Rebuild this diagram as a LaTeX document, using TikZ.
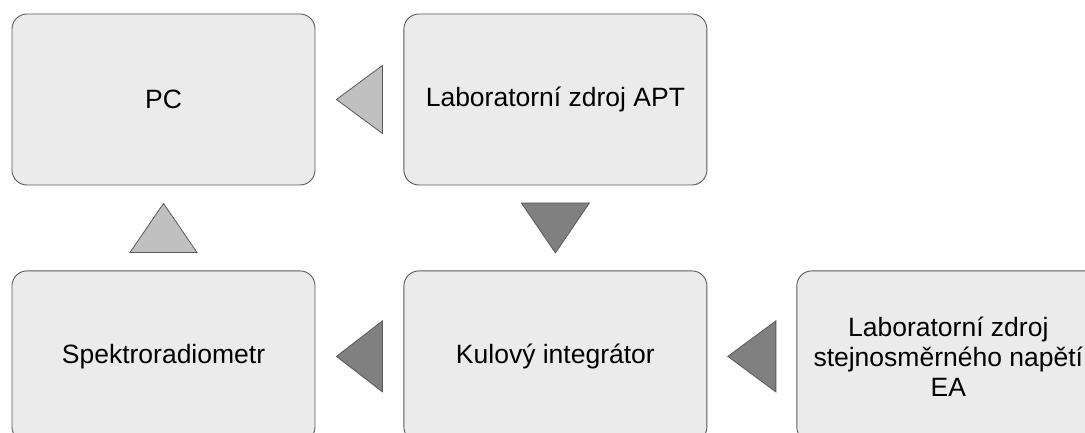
\documentclass[tikz,border=0pt]{standalone}
\usepackage{fontspec}
\setmainfont{Liberation Sans}
\usetikzlibrary{positioning,calc}
\definecolor{boxfill}{HTML}{EBEBEB}
\definecolor{boxline}{HTML}{595959}
\definecolor{lightarr}{HTML}{C0C0C0}
\definecolor{darkarr}{HTML}{808080}
\tikzset{
  blok/.style={draw=boxline,fill=boxfill,line width=0.9pt,rounded corners=15pt,
    minimum width=303pt,minimum height=171pt,inner sep=0pt,align=center,
    font=\fontsize{26.5}{30}\selectfont},
  svetla/.style={draw=boxline,fill=lightarr,line width=0.8pt},
  tmava/.style={draw=boxline,fill=darkarr,line width=0.8pt}
}
\begin{document}
\begin{tikzpicture}[x=1pt,y=1pt]
\useasboundingbox (0,0) rectangle (1085,433);
\node[blok] (pc) at (163.5,333.5) {PC};
\node[blok,right=88pt of pc] (apt) {Laboratorní zdroj APT};
\node[blok,below=85pt of pc] (spektro) {Spektroradiometr};
\node[blok,below=85pt of apt] (koule) {Kulový integrátor};
\node[blok,right=89pt of koule] (ea) {Laboratorní zdroj\\stejnosměrného napětí\\EA};

% sipky mezi bloky
\coordinate (m1) at ($(pc.east)!0.5!(apt.west)$);
\coordinate (m2) at ($(apt.south)!0.5!(koule.north)$);
\coordinate (m3) at ($(spektro.east)!0.5!(koule.west)$);
\coordinate (m4) at ($(koule.east)!0.5!(ea.west)$);
\coordinate (m5) at ($(pc.south)!0.5!(spektro.north)$);

\draw[svetla] ($(m1)+(-23,0)$) -- ++(46,34) -- ++(0,-68) -- cycle;
\draw[tmava] ($(m2)+(0,-25)$) -- ++(34,50) -- ++(-68,0) -- cycle;
\draw[tmava] ($(m3)+(-23,0)$) -- ++(46,35.5) -- ++(0,-71) -- cycle;
\draw[tmava] ($(m4)+(-24,0)$) -- ++(48,35.5) -- ++(0,-71) -- cycle;
\draw[svetla] ($(m5)+(0,24.5)$) -- ++(33.5,-49) -- ++(-67,0) -- cycle;
\end{tikzpicture}
\end{document}
